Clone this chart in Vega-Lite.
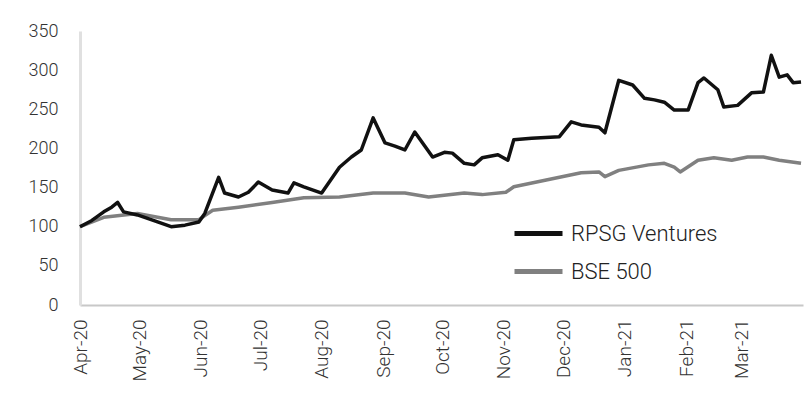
{
  "$schema": "https://vega.github.io/schema/vega-lite/v6.json",
  "width": 723,
  "height": 274,
  "autosize": "none",
  "padding": {"left": 80, "top": 31, "right": 6, "bottom": 100},
  "background": "white",
  "config": {
    "view": {"stroke": null},
    "font": "Roboto",
    "axis": {"labelFont": "Roboto", "labelFontWeight": 300, "labelColor": "#333333", "grid": false, "ticks": false, "title": null},
    "legend": {"labelFont": "Roboto", "labelFontWeight": 300}
  },
  "datasets": {
    "rows": [
      {"date": "2020-04-01", "series": "RPSG Ventures", "value": 100},
      {"date": "2020-04-07", "series": "RPSG Ventures", "value": 108},
      {"date": "2020-04-13", "series": "RPSG Ventures", "value": 119},
      {"date": "2020-04-17", "series": "RPSG Ventures", "value": 125},
      {"date": "2020-04-20", "series": "RPSG Ventures", "value": 131},
      {"date": "2020-04-23", "series": "RPSG Ventures", "value": 119},
      {"date": "2020-04-30", "series": "RPSG Ventures", "value": 115},
      {"date": "2020-05-08", "series": "RPSG Ventures", "value": 108},
      {"date": "2020-05-17", "series": "RPSG Ventures", "value": 100},
      {"date": "2020-05-24", "series": "RPSG Ventures", "value": 102},
      {"date": "2020-05-31", "series": "RPSG Ventures", "value": 106},
      {"date": "2020-06-03", "series": "RPSG Ventures", "value": 117},
      {"date": "2020-06-10", "series": "RPSG Ventures", "value": 163},
      {"date": "2020-06-13", "series": "RPSG Ventures", "value": 143},
      {"date": "2020-06-20", "series": "RPSG Ventures", "value": 138},
      {"date": "2020-06-25", "series": "RPSG Ventures", "value": 144},
      {"date": "2020-06-30", "series": "RPSG Ventures", "value": 157},
      {"date": "2020-07-07", "series": "RPSG Ventures", "value": 147},
      {"date": "2020-07-15", "series": "RPSG Ventures", "value": 143},
      {"date": "2020-07-18", "series": "RPSG Ventures", "value": 156},
      {"date": "2020-07-23", "series": "RPSG Ventures", "value": 151},
      {"date": "2020-08-01", "series": "RPSG Ventures", "value": 143},
      {"date": "2020-08-10", "series": "RPSG Ventures", "value": 176},
      {"date": "2020-08-16", "series": "RPSG Ventures", "value": 189},
      {"date": "2020-08-21", "series": "RPSG Ventures", "value": 198},
      {"date": "2020-08-27", "series": "RPSG Ventures", "value": 239},
      {"date": "2020-09-02", "series": "RPSG Ventures", "value": 207},
      {"date": "2020-09-07", "series": "RPSG Ventures", "value": 203},
      {"date": "2020-09-12", "series": "RPSG Ventures", "value": 198},
      {"date": "2020-09-17", "series": "RPSG Ventures", "value": 221},
      {"date": "2020-09-26", "series": "RPSG Ventures", "value": 189},
      {"date": "2020-10-02", "series": "RPSG Ventures", "value": 195},
      {"date": "2020-10-06", "series": "RPSG Ventures", "value": 194},
      {"date": "2020-10-12", "series": "RPSG Ventures", "value": 181},
      {"date": "2020-10-17", "series": "RPSG Ventures", "value": 179},
      {"date": "2020-10-21", "series": "RPSG Ventures", "value": 188},
      {"date": "2020-10-29", "series": "RPSG Ventures", "value": 192},
      {"date": "2020-11-03", "series": "RPSG Ventures", "value": 185},
      {"date": "2020-11-06", "series": "RPSG Ventures", "value": 211},
      {"date": "2020-11-15", "series": "RPSG Ventures", "value": 213},
      {"date": "2020-11-22", "series": "RPSG Ventures", "value": 214},
      {"date": "2020-11-29", "series": "RPSG Ventures", "value": 215},
      {"date": "2020-12-05", "series": "RPSG Ventures", "value": 234},
      {"date": "2020-12-10", "series": "RPSG Ventures", "value": 230},
      {"date": "2020-12-19", "series": "RPSG Ventures", "value": 227},
      {"date": "2020-12-22", "series": "RPSG Ventures", "value": 220},
      {"date": "2020-12-29", "series": "RPSG Ventures", "value": 287},
      {"date": "2021-01-05", "series": "RPSG Ventures", "value": 281},
      {"date": "2021-01-11", "series": "RPSG Ventures", "value": 264},
      {"date": "2021-01-16", "series": "RPSG Ventures", "value": 262},
      {"date": "2021-01-21", "series": "RPSG Ventures", "value": 259},
      {"date": "2021-01-26", "series": "RPSG Ventures", "value": 249},
      {"date": "2021-02-02", "series": "RPSG Ventures", "value": 249},
      {"date": "2021-02-07", "series": "RPSG Ventures", "value": 284},
      {"date": "2021-02-10", "series": "RPSG Ventures", "value": 290},
      {"date": "2021-02-17", "series": "RPSG Ventures", "value": 275},
      {"date": "2021-02-20", "series": "RPSG Ventures", "value": 253},
      {"date": "2021-02-27", "series": "RPSG Ventures", "value": 255},
      {"date": "2021-03-06", "series": "RPSG Ventures", "value": 271},
      {"date": "2021-03-12", "series": "RPSG Ventures", "value": 272},
      {"date": "2021-03-16", "series": "RPSG Ventures", "value": 319},
      {"date": "2021-03-20", "series": "RPSG Ventures", "value": 291},
      {"date": "2021-03-24", "series": "RPSG Ventures", "value": 294},
      {"date": "2021-03-27", "series": "RPSG Ventures", "value": 284},
      {"date": "2021-03-31", "series": "RPSG Ventures", "value": 285},
      {"date": "2020-04-01", "series": "BSE 500", "value": 100},
      {"date": "2020-04-13", "series": "BSE 500", "value": 112},
      {"date": "2020-04-30", "series": "BSE 500", "value": 117},
      {"date": "2020-05-17", "series": "BSE 500", "value": 109},
      {"date": "2020-05-31", "series": "BSE 500", "value": 109},
      {"date": "2020-06-07", "series": "BSE 500", "value": 121},
      {"date": "2020-06-20", "series": "BSE 500", "value": 125},
      {"date": "2020-07-07", "series": "BSE 500", "value": 131},
      {"date": "2020-07-23", "series": "BSE 500", "value": 137},
      {"date": "2020-08-10", "series": "BSE 500", "value": 138},
      {"date": "2020-08-27", "series": "BSE 500", "value": 143},
      {"date": "2020-09-12", "series": "BSE 500", "value": 143},
      {"date": "2020-09-24", "series": "BSE 500", "value": 138},
      {"date": "2020-10-12", "series": "BSE 500", "value": 143},
      {"date": "2020-10-21", "series": "BSE 500", "value": 141},
      {"date": "2020-11-02", "series": "BSE 500", "value": 144},
      {"date": "2020-11-06", "series": "BSE 500", "value": 151},
      {"date": "2020-11-23", "series": "BSE 500", "value": 160},
      {"date": "2020-12-10", "series": "BSE 500", "value": 169},
      {"date": "2020-12-19", "series": "BSE 500", "value": 170},
      {"date": "2020-12-22", "series": "BSE 500", "value": 164},
      {"date": "2020-12-29", "series": "BSE 500", "value": 172},
      {"date": "2021-01-13", "series": "BSE 500", "value": 179},
      {"date": "2021-01-21", "series": "BSE 500", "value": 181},
      {"date": "2021-01-26", "series": "BSE 500", "value": 176},
      {"date": "2021-01-29", "series": "BSE 500", "value": 170},
      {"date": "2021-02-07", "series": "BSE 500", "value": 185},
      {"date": "2021-02-15", "series": "BSE 500", "value": 188},
      {"date": "2021-02-24", "series": "BSE 500", "value": 185},
      {"date": "2021-03-04", "series": "BSE 500", "value": 189},
      {"date": "2021-03-12", "series": "BSE 500", "value": 189},
      {"date": "2021-03-20", "series": "BSE 500", "value": 185},
      {"date": "2021-03-31", "series": "BSE 500", "value": 181}
    ]
  },
  "data": {"name": "rows"},
  "encoding": {
    "x": {
      "field": "date", "type": "temporal",
      "scale": {"domain": ["2020-04-01", "2021-04-01"]},
      "axis": {"format": "%b-%y", "values": ["2020-04-01", "2020-05-01", "2020-06-01", "2020-07-01", "2020-08-01", "2020-09-01", "2020-10-01", "2020-11-01", "2020-12-01", "2021-01-01", "2021-02-01", "2021-03-01"], "labelAngle": -90, "labelFontSize": 19, "labelPadding": 14, "domainColor": "#c8c8c8", "domainWidth": 2, "labelFlush": false, "labelOverlap": false}
    },
    "y": {
      "field": "value", "type": "quantitative",
      "scale": {"domain": [0, 350], "nice": false},
      "axis": {"values": [0, 50, 100, 150, 200, 250, 300, 350], "labelFontSize": 18, "labelPadding": 22, "domainColor": "#e0e0e0", "domainWidth": 3}
    },
    "color": {
      "field": "series", "type": "nominal",
      "scale": {"domain": ["RPSG Ventures", "BSE 500"], "range": ["#111111", "#808080"]},
      "legend": {"title": null, "orient": "none", "legendX": 432, "legendY": 176, "symbolType": "stroke", "symbolSize": 2304, "symbolStrokeWidth": 5, "labelFontSize": 22, "labelColor": "#222222", "labelOffset": 6, "rowPadding": -1}
    }
  },
  "layer": [
    {"transform": [{"filter": "datum.series === 'BSE 500'"}], "mark": {"type": "line", "strokeWidth": 3.5, "strokeJoin": "round"}},
    {"transform": [{"filter": "datum.series === 'RPSG Ventures'"}], "mark": {"type": "line", "strokeWidth": 3.5, "strokeJoin": "round"}}
  ]
}
